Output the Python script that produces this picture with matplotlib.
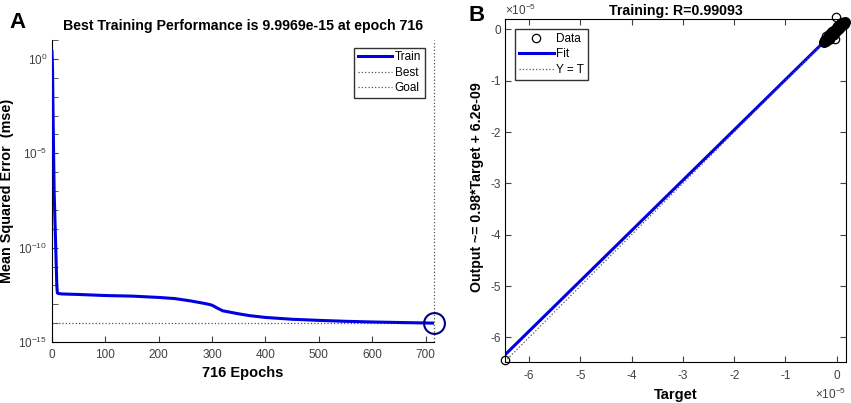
import numpy as np
import matplotlib
matplotlib.use('Agg')
import matplotlib.pyplot as plt
from matplotlib.ticker import FixedLocator, FuncFormatter, NullFormatter

plt.rcParams['font.family'] = ['Liberation Sans', 'DejaVu Sans']
plt.rcParams['mathtext.fontset'] = 'custom'
plt.rcParams['mathtext.rm'] = 'Liberation Sans'
plt.rcParams['mathtext.it'] = 'Liberation Sans:italic'
plt.rcParams['mathtext.bf'] = 'Liberation Sans:bold'
plt.rcParams['axes.unicode_minus'] = False

# panel A: training performance
epochs = [0, 1, 2, 3, 4, 5, 6, 7, 8, 9, 10, 12, 20, 50, 100, 150, 200, 230, 260,
          290, 300, 310, 320, 350, 370, 400, 450, 500, 550, 600, 650, 700, 716]
train_mse = [2.5, 0.3, 1e-3, 1e-5, 1e-7, 1e-8, 1e-9, 1e-10, 1e-11, 1e-12, 4e-13,
             3.7e-13, 3.5e-13, 3.3e-13, 2.9e-13, 2.7e-13, 2.3e-13, 2.0e-13, 1.5e-13,
             1.05e-13, 8.9e-14, 6.2e-14, 4.5e-14, 3.1e-14, 2.5e-14, 2.0e-14, 1.6e-14,
             1.4e-14, 1.25e-14, 1.15e-14, 1.08e-14, 1.02e-14, 9.9969e-15]
best_epoch = 716
best_perf = 9.9969e-15

# panel B: regression
targets = [-6.47e-5,
           -0.25e-5, -0.22e-5, -0.2e-5, -0.18e-5, -0.16e-5, -0.15e-5, -0.13e-5, -0.12e-5,
           -0.1e-5, -0.09e-5, -0.08e-5, -0.06e-5, -0.05e-5, -0.04e-5, -0.03e-5, -0.02e-5,
           -0.01e-5, 0.0, 0.01e-5, 0.02e-5, 0.03e-5, 0.04e-5, 0.05e-5, 0.06e-5, 0.07e-5,
           0.08e-5, 0.09e-5, 0.1e-5, 0.12e-5, 0.14e-5, 0.15e-5, 0.17e-5,
           -0.2e-5, -0.14e-5, -0.1e-5, -0.05e-5, 0.0, 0.05e-5, 0.1e-5,
           -0.01e-5, -0.03e-5]
outputs = [-6.44e-5,
           -0.24e-5, -0.2e-5, -0.22e-5, -0.15e-5, -0.18e-5, -0.12e-5, -0.14e-5, -0.08e-5,
           -0.11e-5, -0.06e-5, -0.1e-5, -0.04e-5, -0.08e-5, -0.02e-5, -0.05e-5, 0.0,
           -0.03e-5, 0.02e-5, -0.01e-5, 0.04e-5, 0.01e-5, 0.06e-5, 0.03e-5, 0.08e-5, 0.05e-5,
           0.1e-5, 0.07e-5, 0.12e-5, 0.1e-5, 0.13e-5, 0.11e-5, 0.15e-5,
           -0.13e-5, -0.19e-5, -0.04e-5, -0.11e-5, 0.07e-5, 0.0, 0.14e-5,
           0.24e-5, -0.18e-5]
fit_slope = 0.98
fit_icpt = 6.2e-9
r_value = 0.99093

tick_col = '#404040'
blue = '#0000e0'

fig = plt.figure(figsize=(8.51, 4.03), dpi=100)

# ---- A ----
ax1 = fig.add_axes([0.0611, 0.1514, 0.449, 0.749])
ax1.semilogy(epochs, train_mse, color=blue, lw=2.2, label='Train', zorder=3)
ax1.plot([best_epoch, best_epoch], [1e-15, 10], ls=':', color='#555555', lw=0.9,
         label='Best', clip_on=False)
ax1.plot([0, best_epoch], [best_perf, best_perf], ls=':', color='#555555', lw=0.9, label='Goal')
ax1.plot([best_epoch], [best_perf], 'o', ms=15, mfc='none', mec='#000080', mew=1.5,
         clip_on=False, zorder=4)
ax1.set_xlim(0, best_epoch)
ax1.set_ylim(1e-15, 10)
ax1.spines['top'].set_visible(False)
ax1.spines['right'].set_visible(False)
ax1.set_xticks(range(0, 701, 100))
ax1.yaxis.set_major_locator(FixedLocator([1e-15, 1e-10, 1e-5, 1e0]))
ax1.yaxis.set_minor_locator(FixedLocator([10.0 ** k for k in range(-15, 2)]))
ax1.yaxis.set_minor_formatter(NullFormatter())
ax1.set_yticklabels([r'$10^{-15}$', r'$10^{-10}$', r'$10^{-5}$', r'$10^{0}$'])
ax1.tick_params(direction='in', length=4, labelsize=8.5, colors=tick_col, which='both')
ax1.tick_params(axis='x', pad=5)
ax1.set_title('Best Training Performance is %.4fe-15 at epoch %d' % (best_perf * 1e15, best_epoch),
              fontsize=10.2, fontweight='bold', pad=7)
ax1.set_xlabel('%d Epochs' % best_epoch, fontsize=10.5, fontweight='bold', labelpad=4)
ax1.set_ylabel('Mean Squared Error  (mse)', fontsize=10.4, fontweight='bold')
ax1.yaxis.set_label_coords(-0.1, 0.5)
ax1.legend(loc='upper right', bbox_to_anchor=(0.975, 0.975), fontsize=8.5, handlelength=2.9,
           handletextpad=0.2, borderpad=0.3, labelspacing=0.3, fancybox=False,
           framealpha=1, edgecolor='#333333', borderaxespad=0)
fig.text(0.021, 0.945, 'A', fontsize=16, fontweight='bold', ha='center', va='center')

# ---- B ----
ax2 = fig.add_axes([0.5934, 0.1017, 0.4007, 0.851])
t = np.array(targets)
o = np.array(outputs)
ax2.plot(t, o, 'o', ms=6, mfc='none', mec='black', mew=0.9, label='Data', clip_on=False)
ax2.plot([t.min(), t.max()], [fit_slope * t.min() + fit_icpt, fit_slope * t.max() + fit_icpt],
         color=blue, lw=2.2, label='Fit')
ax2.plot([t.min(), t.max()], [t.min(), t.max()], ls=':', color='#555555', lw=0.9, label='Y = T')
# dense cluster near the origin shows as solid black
ax2.plot(t[1:33], o[1:33], 'o', ms=7, mfc='black', mec='black', mew=0.9, clip_on=False)
ax2.set_xlim(-6.47e-5, 0.18e-5)
ax2.set_ylim(-6.48e-5, 0.2e-5)
ax2.set_xticks([k * 1e-5 for k in range(-6, 1)])
ax2.set_yticks([k * 1e-5 for k in range(-6, 1)])
fmt = FuncFormatter(lambda v, p: '%d' % round(v / 1e-5))
ax2.xaxis.set_major_formatter(fmt)
ax2.yaxis.set_major_formatter(fmt)
ax2.tick_params(direction='in', length=4, labelsize=8.5, colors=tick_col, top=True, right=True)
ax2.tick_params(axis='x', pad=6)
ax2.tick_params(axis='y', pad=3)
ax2.text(0.0, 1.004, r'$\times10^{-5}$', transform=ax2.transAxes, fontsize=8.5,
         color=tick_col, ha='left', va='bottom')
ax2.text(1.0, -0.072, r'$\times10^{-5}$', transform=ax2.transAxes, fontsize=8.5,
         color=tick_col, ha='right', va='top')
ax2.set_title('Training: R=%.5f' % r_value, fontsize=10.2, fontweight='bold', pad=3)
ax2.set_xlabel('Target', fontsize=10.5, fontweight='bold', labelpad=4)
ax2.set_ylabel('Output ~= %.2g*Target + %.1e' % (fit_slope, fit_icpt), fontsize=10.2,
               fontweight='bold')
ax2.yaxis.set_label_coords(-0.062, 0.51)
ax2.legend(loc='upper left', bbox_to_anchor=(0.03, 0.972), fontsize=8.5, handlelength=2.9,
           handletextpad=0.2, borderpad=0.35, labelspacing=0.3, fancybox=False,
           framealpha=1, edgecolor='#333333', borderaxespad=0)
fig.text(0.5605, 0.962, 'B', fontsize=16, fontweight='bold', ha='center', va='center')

fig.savefig('out.png', dpi=100)
